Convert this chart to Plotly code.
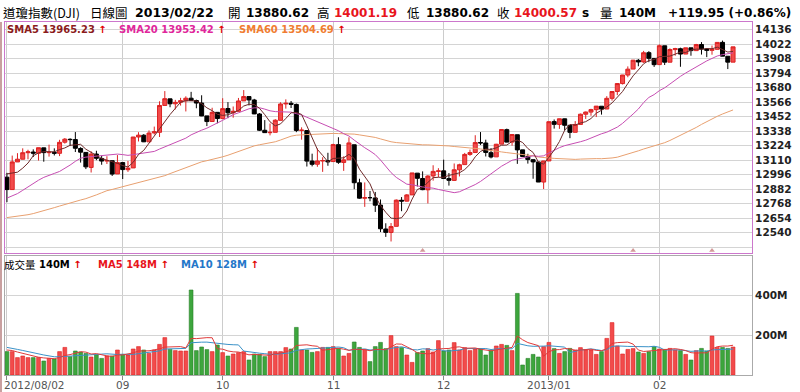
import plotly.graph_objects as go
import pandas as pd

# ---------------- data (DJI daily, 2012/08/02 .. 2013/02/22) ----------------
opens = [12976.13, 12878.88, 13096.17, 13117.51, 13168.60, 13174, 13164, 13207, 13169, 13171, 13164, 13251, 13274, 13272, 13202, 13171, 13053, 13158, 13123, 13103, 13106, 13002,
         13091, 13035, 13049, 13292, 13306, 13254, 13324, 13329, 13540, 13592, 13553, 13565, 13577, 13597, 13579, 13559, 13458, 13414, 13486,
         13437, 13516, 13483, 13494, 13576, 13610, 13583, 13473, 13345, 13326, 13329, 13423, 13552, 13557, 13548, 13344, 13343, 13103, 13078, 13103, 13107,
         13099, 13232, 13092, 13113, 13231, 12932, 12811, 12816, 12813, 12757, 12569, 12542, 12590, 12795, 12788, 12837, 13008, 12966, 12877, 12986, 13022,
         13026, 12965, 12951, 13034, 13075, 13155, 13170, 13249, 13245, 13169, 13136, 13236, 13350, 13252, 13310, 13191, 13139, 13114, 13096, 12938,
         13104, 13413, 13391, 13435, 13384, 13329, 13391, 13471, 13488, 13507, 13534, 13512, 13596, 13650, 13712, 13779, 13826, 13895, 13882, 13955, 13910,
         13861, 14009, 13880, 13979, 13986, 13944, 13993, 13971, 14019, 13983, 13973, 13981, 14036, 13927, 13880.62]
highs = [13010, 13146, 13165, 13203, 13192, 13195, 13208, 13207, 13232, 13203, 13270, 13284, 13282, 13331, 13212, 13174, 13180, 13184, 13145, 13141, 13106, 13150,
         13091, 13104, 13292, 13330, 13315, 13344, 13374, 13573, 13653, 13593, 13584, 13600, 13612, 13647, 13586, 13620, 13458, 13522, 13486,
         13597, 13566, 13532, 13599, 13661, 13610, 13592, 13480, 13425, 13398, 13432, 13565, 13588, 13575, 13555, 13368, 13343, 13161, 13202, 13133, 13168,
         13239, 13290, 13140, 13290, 13231, 12964, 12935, 12868, 12860, 12801, 12614, 12616, 12801, 12820, 12844, 13010, 13008, 13022, 12992, 13070, 13047,
         13114, 13009, 13084, 13082, 13167, 13193, 13306, 13331, 13271, 13205, 13238, 13352, 13358, 13313, 13310, 13191, 13160, 13115, 13096, 13104,
         13413, 13430, 13436, 13436, 13384, 13417, 13476, 13492, 13514, 13535, 13534, 13613, 13650, 13713, 13780, 13847, 13898, 13905, 13969, 13967, 13913,
         14020, 14009, 13989, 13993, 13994, 13993, 13993, 14024, 14038, 13990, 14011, 14036, 14050, 13928, 14001.19]
lows = [12780, 12879, 13096, 13117, 13117, 13135, 13107, 13098, 13138, 13147, 13142, 13240, 13221, 13174, 13091, 13040, 13013, 13110, 13074, 13080, 12986, 13002,
        12962, 13018, 13049, 13257, 13252, 13254, 13312, 13292, 13540, 13526, 13509, 13539, 13493, 13575, 13518, 13456, 13378, 13414, 13400,
        13437, 13440, 13444, 13490, 13576, 13540, 13472, 13339, 13325, 13305, 13329, 13423, 13515, 13520, 13330, 13271, 13060, 13061, 13058, 13018, 13066,
        13099, 13081, 13026, 13113, 12882, 12807, 12743, 12787, 12703, 12545, 12507, 12471, 12590, 12709, 12786, 12837, 12903, 12874, 12770, 12949, 12977,
        12962, 12910, 12948, 12982, 13075, 13144, 13170, 13230, 13139, 13124, 13136, 13236, 13250, 13224, 13081, 13139, 13083, 12964, 12938, 12883,
        13104, 13358, 13356, 13343, 13283, 13329, 13391, 13434, 13459, 13449, 13468, 13512, 13578, 13621, 13705, 13762, 13826, 13848, 13875, 13880, 13843,
        13861, 13858, 13880, 13931, 13844, 13944, 13931, 13971, 13940, 13920, 13939, 13981, 13927, 13826, 13880.62]
closes = [12878.88, 13096.17, 13117.51, 13168.60, 13175.64, 13165.19, 13207.95, 13169.43, 13172.14, 13164.78, 13250.11, 13275.20, 13271.64, 13203.58, 13172.76, 13057.46, 13157.97, 13124.67, 13102.99, 13107.48, 13000.71, 13090.84,
          13035.94, 13047.48, 13292.00, 13306.64, 13254.29, 13323.36, 13333.35, 13539.86, 13593.37, 13553.10, 13564.64, 13577.96, 13596.93, 13579.47, 13558.92, 13457.55, 13413.51, 13485.97, 13437.13,
          13515.11, 13482.36, 13494.61, 13575.36, 13610.15, 13583.65, 13473.53, 13344.97, 13326.39, 13328.85, 13424.23, 13551.78, 13557.00, 13548.94, 13343.51, 13345.89, 13102.53, 13077.34, 13103.68, 13107.21, 13096.46,
          13232.62, 13093.16, 13112.44, 13245.68, 12932.73, 12811.32, 12815.39, 12815.08, 12756.18, 12570.95, 12542.38, 12588.31, 12795.96, 12788.51, 12836.89, 13009.68, 12967.37, 12878.13, 12985.11, 13021.82, 13025.58,
          12965.60, 12951.78, 13034.49, 13074.04, 13155.13, 13169.88, 13248.44, 13245.45, 13170.72, 13135.01, 13235.39, 13350.96, 13251.97, 13311.72, 13190.84, 13139.08, 13114.59, 13096.31, 12938.11, 13104.14,
          13412.55, 13391.36, 13435.21, 13384.29, 13328.85, 13390.51, 13471.22, 13488.43, 13507.32, 13534.89, 13511.23, 13596.02, 13649.70, 13712.21, 13779.33, 13825.33, 13895.98, 13881.93, 13954.42, 13910.42, 13860.58,
          14009.79, 13880.08, 13979.30, 13986.52, 13944.05, 13992.97, 13971.24, 14018.70, 13982.91, 13973.39, 13981.76, 14035.67, 13927.54, 13880.62, 14000.57]
volumes = [117, 117, 87, 95, 87, 87, 88, 70, 83, 80, 117, 138, 92, 120, 115, 108, 90, 102, 83, 95, 95, 125,
           103, 100, 130, 142, 125, 108, 125, 153, 187, 128, 122, 120, 120, 425, 122, 140, 127, 117, 150,
           112, 95, 105, 112, 117, 75, 105, 103, 92, 117, 117, 117, 137, 130, 238, 125, 125, 113, 117, 138, 138,
           142, 133, 95, 108, 165, 138, 128, 67, 142, 163, 132, 197, 142, 137, 100, 63, 112, 120, 132, 115, 172,
           120, 125, 162, 125, 137, 122, 130, 130, 100, 122, 145, 153, 148, 122, 408, 50, 83, 103, 90, 142,
           163, 132, 108, 117, 133, 125, 137, 125, 125, 103, 117, 183, 262, 145, 105, 128, 132, 115, 108, 117, 142,
           130, 128, 133, 125, 122, 103, 75, 122, 133, 120, 195, 138, 138, 133, 140]   # millions

# history before the visible window (needed for the moving averages)
prior_closes = [12835.06, 12855.04, 12820.60, 12695.35, 12632.00, 12598.55, 12442.49, 12369.38, 12504.48, 12502.81, 12496.15, 12529.75, 12454.83, 12580.69, 12419.86, 12393.45,
                12118.57, 12101.46, 12127.95, 12414.79, 12460.96, 12554.20, 12411.23, 12573.80, 12496.38, 12651.91, 12767.17, 12741.82, 12837.33, 12824.39, 12573.57, 12640.78, 12502.66, 12534.67, 12627.01, 12602.26, 12880.09,
                12871.39, 12943.82, 12896.67, 12772.47, 12736.29, 12653.12, 12604.53, 12573.27, 12777.09, 12727.21, 12805.54, 12908.70, 12943.36, 12822.57, 12721.46, 12617.32, 12676.05, 12887.93, 13075.66, 13073.01, 13008.68,
                12976.13]
prior_volumes = [155, 150, 148, 152, 150, 130, 125, 128, 125]

month_pos = [0, 22, 41, 62, 83, 103, 124]
month_labels = ["2012/08/02", "09", "10", "11", "12", "2013/01", "02"]
price_ticks = [12426, 12540, 12654, 12768, 12882, 12996, 13110, 13224, 13338, 13452, 13566, 13680, 13794, 13908, 14022, 14136]
price_labels = ["", "12540", "12654", "12768", "12882", "12996", "13110", "13224", "13338", "13452", "13566", "13680", "13794", "13908", "14022", "14136"]
vol_ticks = [200, 400]
vol_labels = ["200M", "400M"]
event_pos = [79, 119, 134]

# ---------------- derived ----------------
x = list(range(len(closes)))
n0 = len(prior_closes)
cs = pd.Series(prior_closes + closes)
sma5 = cs.rolling(5).mean().iloc[n0:].tolist()
sma20 = cs.rolling(20).mean().iloc[n0:].tolist()
sma60 = cs.rolling(60).mean().iloc[n0:].tolist()
vs = pd.Series(prior_volumes + volumes)
vma5 = vs.rolling(5).mean().iloc[len(prior_volumes):].tolist()
vma10 = vs.rolling(10).mean().iloc[len(prior_volumes):].tolist()

UP_FILL, UP_LINE = "#f24b4b", "#dd2222"
DN_FILL, DN_LINE = "#3da63d", "#2a7f2a"
vol_fill = [UP_FILL if c > o else DN_FILL for o, c in zip(opens, closes)]
vol_edge = [UP_LINE if c > o else DN_LINE for o, c in zip(opens, closes)]

# ---------------- geometry helpers (pixels -> paper) ----------------
L, R, T, B = 5, 752, 22, 375
def px(v):
    return (v - L) / (R - L)
def py(v):
    return (B - v) / (B - T)

xr = [-0.37, 141.6]
price_range = [12378, 14196]
vol_range = [0, 595]

fig = go.Figure()
fig.add_trace(go.Candlestick(
    x=x, open=opens, high=highs, low=lows, close=closes,
    increasing=dict(fillcolor=UP_FILL, line=dict(color=UP_LINE, width=1)),
    decreasing=dict(fillcolor="#000000", line=dict(color="#000000", width=1)),
    whiskerwidth=0, xaxis="x", yaxis="y", showlegend=False, hoverinfo="skip"))
fig.add_trace(go.Scatter(x=x, y=sma60, mode="lines", line=dict(color="#e8a070", width=1), xaxis="x", yaxis="y", hoverinfo="skip"))
fig.add_trace(go.Scatter(x=x, y=sma20, mode="lines", line=dict(color="#c64db2", width=1), xaxis="x", yaxis="y", hoverinfo="skip"))
fig.add_trace(go.Scatter(x=x, y=sma5, mode="lines", line=dict(color="#6e2a2a", width=1), xaxis="x", yaxis="y", hoverinfo="skip"))
fig.add_trace(go.Scatter(x=event_pos, y=[price_range[0] + 22] * len(event_pos), mode="markers",
                         marker=dict(symbol="triangle-up", size=5, color="#d39a9a"), xaxis="x", yaxis="y", hoverinfo="skip", cliponaxis=False))

fig.add_trace(go.Bar(x=x, y=volumes, marker=dict(color=vol_fill, line=dict(color=vol_edge, width=0.6)),
                     xaxis="x2", yaxis="y2", hoverinfo="skip"))
fig.add_trace(go.Scatter(x=x, y=vma10, mode="lines", line=dict(color="#3a92c8", width=1), xaxis="x2", yaxis="y2", hoverinfo="skip"))
fig.add_trace(go.Scatter(x=x, y=vma5, mode="lines", line=dict(color="#e03a3a", width=1), xaxis="x2", yaxis="y2", hoverinfo="skip"))

NUM = "DejaVu Sans"
CJK = "Noto Sans CJK TC"
tickfont = dict(family=NUM, size=10.5, color="#222222", weight="bold")
VIOLET = "#cc77cc"
GRID = "#d4d4d4"

fig.update_layout(
    width=800, height=392, margin=dict(l=L, r=800 - R, t=T, b=392 - B),
    paper_bgcolor="white", plot_bgcolor="white", showlegend=False,
    bargap=0.28, boxgap=0.2, boxgroupgap=0.05,
    xaxis=dict(domain=[0, 1], anchor="y", range=xr, tickvals=month_pos, showticklabels=False, ticks="",
               showgrid=True, gridcolor="#cccccc", zeroline=False, showline=True, linecolor=VIOLET, mirror=True,
               rangeslider=dict(visible=False)),
    yaxis=dict(domain=[py(253.3), 1], anchor="x", side="right", range=price_range, tickvals=price_ticks, ticktext=price_labels,
               showgrid=True, gridcolor=GRID, zeroline=False, showline=True, linecolor=VIOLET, mirror=True,
               ticks="", tickfont=tickfont),
    xaxis2=dict(domain=[0, 1], anchor="y2", range=xr, tickvals=month_pos, showticklabels=False, ticks="outside", ticklen=4,
                tickcolor="#888888", showgrid=True, gridcolor="#cccccc", zeroline=False, showline=True, linecolor="#aaaaaa", mirror=True),
    yaxis2=dict(domain=[0, py(256)], anchor="x2", side="right", range=vol_range, tickvals=vol_ticks, ticktext=vol_labels,
                showgrid=True, gridcolor=GRID, zeroline=False, showline=True, linecolor="#aaaaaa", mirror=True,
                ticks="", tickfont=tickfont),
)

ann = []
def add(text, x0, y0, size, color="#000000", family=NUM, bold=False, xanchor="left", yanchor="middle"):
    ann.append(dict(text=text, x=px(x0), y=py(y0), xref="paper", yref="paper", showarrow=False,
                    xanchor=xanchor, yanchor=yanchor, borderpad=0,
                    font=dict(family=family, size=size, color=color, weight="bold" if bold else "normal")))

RED = "#e8141c"
TY = 12.5
NS = 12
add("道瓊指數(DJI)", 2, TY, 12.5, family=CJK)
add("日線圖", 89, TY, 12.5, family=CJK)
add("2013/02/22", 134, TY, 12.5, bold=True)
add("開", 227, TY, 12.5, family=CJK)
add("13880.62", 245, TY, NS, bold=True)
add("高", 316, TY, 12.5, family=CJK)
add("14001.19", 333, TY, NS, color=RED, bold=True)
add("低", 406, TY, 12.5, family=CJK)
add("13880.62", 425, TY, NS, bold=True)
add("收", 496, TY, 12.5, family=CJK)
add("14000.57", 513, TY, NS, color=RED, bold=True)
add("s", 581, TY, NS, bold=True)
add("量", 599, TY, 12.5, family=CJK)
add("140M", 618, TY, NS, bold=True)
add("+119.95 (+0.86%)", 667, TY, NS, bold=True)

ARROW = "<span style='color:#e00000'>↑</span>"
LY = 29
add("SMA5 13965.23 " + ARROW, 6, LY, 10, color="#8b1c1c", bold=True)
add("SMA20 13953.42 " + ARROW, 118, LY, 10, color="#e0279b", bold=True)
add("SMA60 13504.69 " + ARROW, 238, LY, 10, color="#f07d32", bold=True)

VY = 264
add("成交量", 3, VY, 10.5, family=CJK)
add("140M " + ARROW, 38, VY, 10, bold=True)
add("MA5 148M " + ARROW, 97, VY, 10, color="#e8141c", bold=True)
add("MA10 128M " + ARROW, 180, VY, 10, color="#2477c9", bold=True)

for pos, lab in zip(month_pos, month_labels):
    cx = 6.96 + 5.261 * pos
    if pos == month_pos[0]:
        add(lab, 3, 391.5, 10.5, color="#555555", xanchor="left", yanchor="bottom")
    else:
        add(lab, cx, 391.5, 10.5, color="#555555", xanchor="center", yanchor="bottom")

fig.update_layout(annotations=ann)
fig.add_shape(type="line", xref="paper", yref="paper", x0=px(1), x1=px(1), y0=py(22), y1=py(392),
              line=dict(color="#c9a0a0", width=2))

fig.write_html("out.html", config={"displayModeBar": False},
               post_script="document.body.style.margin='0';document.body.style.overflow='hidden';")
